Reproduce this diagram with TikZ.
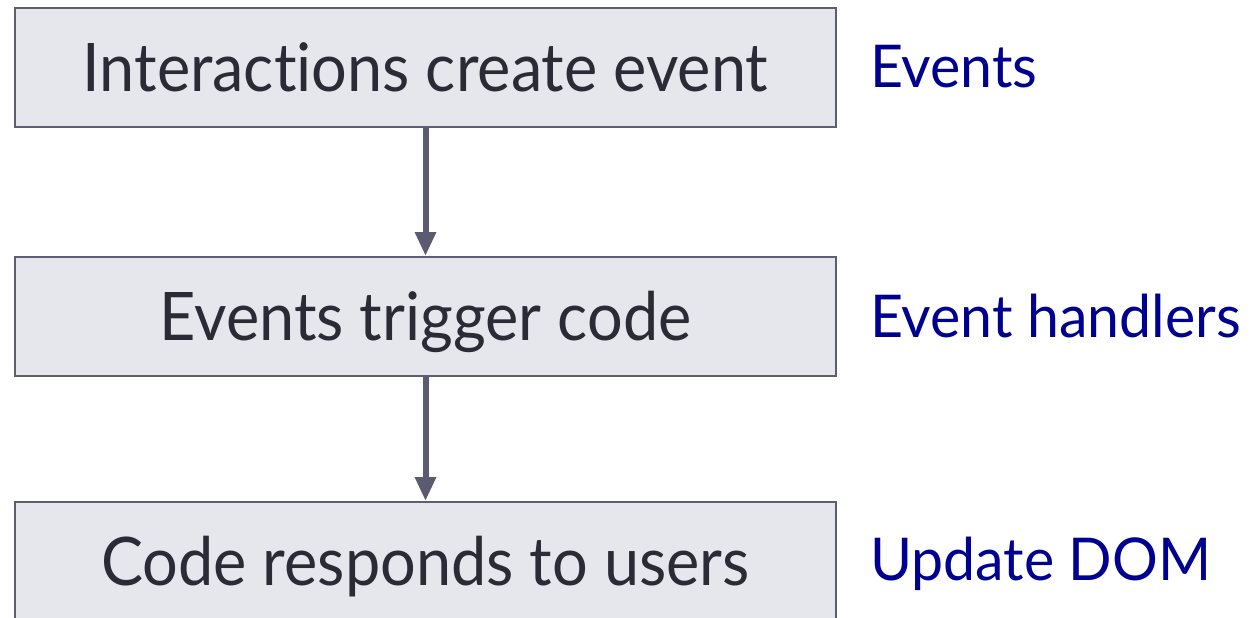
\documentclass[tikz,border=0pt]{standalone}
\usepackage{fontspec}
\setmainfont{Lato}
\newfontfamily\boxfont[FakeStretch=0.94, Ligatures=NoCommon]{Lato}
\newfontfamily\labelfont[FakeStretch=0.97, Ligatures=NoCommon]{Lato}
\usetikzlibrary{arrows.meta}
\definecolor{boxfill}{HTML}{E6E7EC}
\definecolor{boxline}{HTML}{5E5E72}
\definecolor{boxtext}{HTML}{2B2B35}
\definecolor{arrowc}{HTML}{5A5A70}
\definecolor{labelblue}{HTML}{000090}
\tikzset{
  stepbox/.style={draw=boxline, line width=2pt, fill=boxfill, text=boxtext,
    minimum width=821pt, minimum height=119pt, inner sep=0pt,
    text height=48pt, text depth=0pt,
    font=\boxfont\fontsize{67}{80}\selectfont},
  sidelabel/.style={anchor=base west, text=labelblue, inner sep=0pt,
    font=\labelfont\fontsize{59}{70}\selectfont},
  flow/.style={draw=arrowc, line width=6pt,
    -{Triangle[width=20pt,length=24pt]}}
}
\begin{document}
\begin{tikzpicture}[x=1pt,y=-1pt]
  \useasboundingbox (0,0) rectangle (1251,618);
  \clip (0,0) rectangle (1251,618);
  \node[stepbox] (b1) at (425.5,67.5) {Interactions create event};
  \node[stepbox] (b2) at (425.5,316.5) {Events trigger code};
  \node[stepbox] (b3) at (425.5,561.5) {Code responds to users};
  \node[sidelabel] (l1) at (870,88) {Events};
  \node[sidelabel] (l2) at (870,337) {Event handlers};
  \node[sidelabel] (l3) at (870,580) {Update DOM};
  \draw[flow] (b1.south) -- (b2.north);
  \draw[flow] (b2.south) -- (b3.north);
\end{tikzpicture}
\end{document}
